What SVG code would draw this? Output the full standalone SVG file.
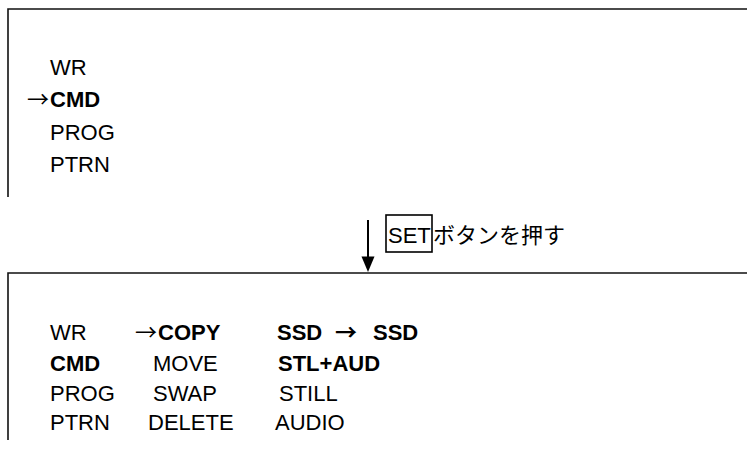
<svg xmlns="http://www.w3.org/2000/svg" width="747" height="460" viewBox="0 0 747 460">
<style>
.frame{fill:none;stroke:#111;stroke-width:1.6}
.t{font-family:"Liberation Sans",Arial,sans-serif;font-size:22px;fill:#000}
.b{font-weight:bold}
.ar{font-family:"Noto Sans CJK JP","DejaVu Sans",sans-serif;font-size:22px;fill:#000}
.jp{font-family:"Noto Sans CJK JP",sans-serif;font-size:22px;fill:#000}
.conn{stroke:#000;stroke-width:2;fill:none}
</style>
<defs>
<marker id="ah" viewBox="0 0 10 10" refX="10" refY="5" markerWidth="7" markerHeight="8" markerUnits="userSpaceOnUse" orient="auto">
<path d="M0,0 L10,5 L0,10 Z" fill="#000"/>
</marker>
</defs>
<rect width="747" height="460" fill="#fff"/>
<g id="screen-top">
<path class="frame" d="M747,9 H8 V197"/>
<text class="t" x="50" y="75">WR</text>
<text class="ar" x="27" y="107">→</text>
<text class="t b" x="50" y="107">CMD</text>
<text class="t" x="50" y="140">PROG</text>
<text class="t" x="50" y="172">PTRN</text>
</g>
<g id="connectors">
<line class="conn" x1="368" y1="220" x2="368" y2="258"/>
<path d="M361.5,256.5 L374.5,256.5 L368,272 Z" fill="#000"/>
<rect x="386" y="215" width="46" height="37" fill="none" stroke="#000" stroke-width="1.6"/>
<text class="t" x="388" y="243">SET</text>
<text class="jp" x="433" y="243">ボタンを押す</text>
</g>
<g id="screen-bottom">
<path class="frame" d="M747,273 H8 V440"/>
<text class="t" x="50" y="340">WR</text>
<text class="t b" x="50" y="371">CMD</text>
<text class="t" x="50" y="401">PROG</text>
<text class="t" x="50" y="430">PTRN</text>
<text class="ar" x="135" y="340">→</text>
<text class="t b" x="158" y="340">COPY</text>
<text class="t" x="153" y="371">MOVE</text>
<text class="t" x="153" y="401">SWAP</text>
<text class="t" x="148" y="430">DELETE</text>
<text class="t b" x="277" y="340">SSD</text>
<text class="ar b" x="335" y="340">→</text>
<text class="t b" x="373" y="340">SSD</text>
<text class="t b" x="278" y="371">STL+AUD</text>
<text class="t" x="279" y="401">STILL</text>
<text class="t" x="275" y="430">AUDIO</text>
</g>
</svg>
